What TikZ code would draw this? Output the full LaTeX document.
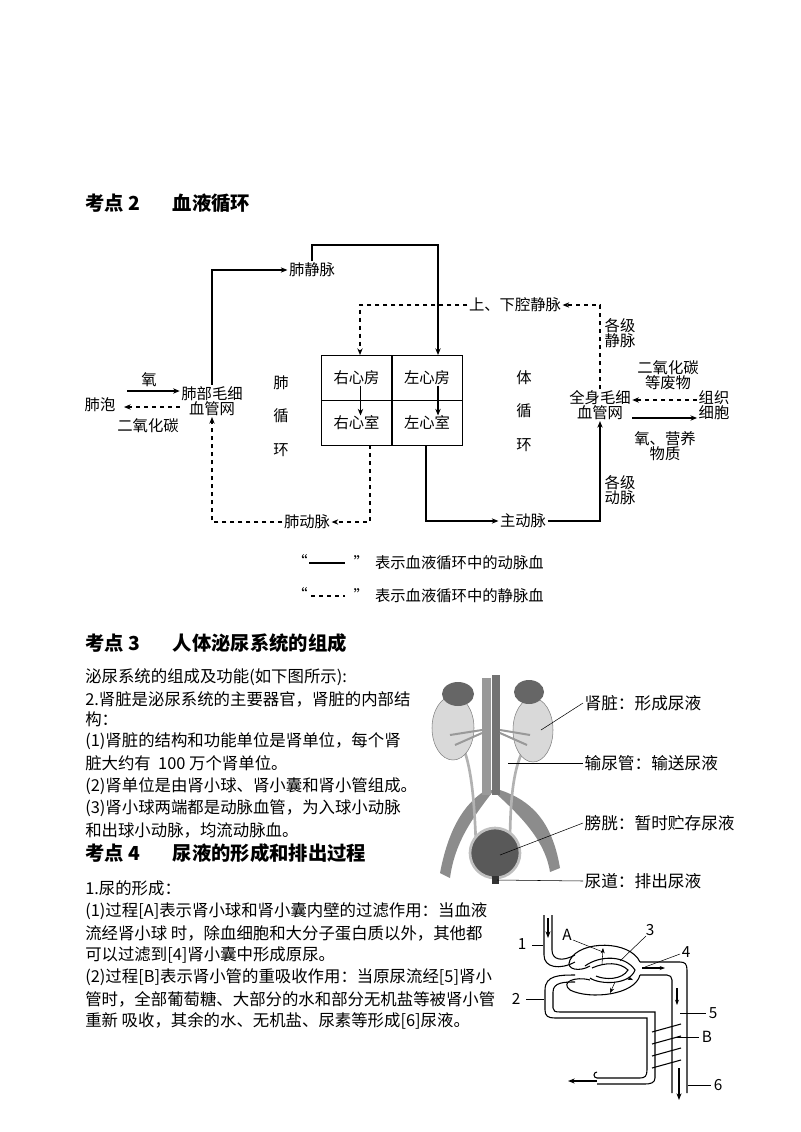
\documentclass[tikz,border=0pt]{standalone}
\usepackage{fontspec}
\setmainfont{Noto Sans CJK SC}
\usetikzlibrary{arrows.meta,calc}
\begin{document}
\begin{tikzpicture}[x=0.75pt,y=-0.75pt,
  t/.style={font=\fontsize{11.5}{13}\selectfont,inner sep=1pt},
  kl/.style={font=\fontsize{12.5}{14}\selectfont,inner sep=1pt,anchor=west},
  p/.style={font=\fontsize{12.3}{14}\selectfont,inner sep=0pt,anchor=west},
  h/.style={font=\fontsize{14.5}{17}\bfseries\selectfont,inner sep=0pt,anchor=west},
  cell/.style={draw,minimum width=52.9pt,minimum height=33.75pt,inner sep=0pt,font=\fontsize{11.5}{13}\selectfont},
  ar/.style={-{Stealth[length=5pt,width=4pt]},thick},
  dar/.style={-{Stealth[length=5pt,width=4pt]},thick,dashed},
  tube/.style={line width=0.8pt}]
\useasboundingbox (0,0) rectangle (800,1132);
% headings
\node[h] (h2) at (85,203) {考点 2\hspace{1.7em}血液循环};
% circulation
\node[cell] (ra) at (356.5,377.5) {右心房};
\node[cell] (la) at (427,377.5) {左心房};
\node[cell] (rv) at (356.5,422.5) {右心室};
\node[cell] (lv) at (427,422.5) {左心室};
\draw[ar] ($(ra.center)+(4,8)$) -- ($(rv.center)+(4,-7)$);
\draw[ar] ($(la.center)+(11,8)$) -- ($(lv.center)+(11,-7)$);
\node[t] (pv) at (312,270) {肺静脉};
\node[t] (vc) at (515,305) {上、下腔静脉};
\node[t,align=center] (lc) at (212,401) {肺部毛细\\[-2pt]血管网};
\node[t] (alv) at (100,405) {肺泡};
\node[t] (o2) at (149,380) {氧};
\node[t] (co2) at (148,426) {二氧化碳};
\node[t,align=center] (sc) at (600,405) {全身毛细\\[-2pt]血管网};
\node[t,align=center] (tc) at (714,405) {组织\\[-2pt]细胞};
\node[t,align=center] (waste) at (668,375) {二氧化碳\\[-2pt]等废物};
\node[t,align=center] (nut) at (665,446) {氧、营养\\[-2pt]物质};
\node[t,align=center] (gv) at (620,333) {各级\\[-2pt]静脉};
\node[t,align=center] (ga) at (620,490) {各级\\[-2pt]动脉};
\node[t] (pa) at (307,522) {肺动脉};
\node[t] (ao) at (523,521) {主动脉};
\node[t,align=center] (pc) at (281,416) {肺\\[12pt]循\\[12pt]环};
\node[t,align=center] (sys) at (524,411) {体\\[12pt]循\\[12pt]环};
\draw[ar] (lc.north) |- (pv.west);
\draw[ar] (pv.north) |- (438,245) -- (438,355);
\draw[dar] (vc.west) -| (360,355);
\draw[dar] (sc.north) |- (vc.east);
\draw[dar] (370,445) |- (pa.east);
\draw[dar] (pa.west) -| (lc.south);
\draw[ar] (426,445) |- (ao.west);
\draw[ar] (ao.east) -| (sc.south);
\draw[dar] (tc.west |- 0,400) -- (sc.east |- 0,400);
\draw[ar] (sc.east |- 0,418) -- (tc.west |- 0,418);
\draw[ar] (127,391) -- (lc.west |- 0,391);
\draw[dar] (lc.west |- 0,407) -- (124,407);
% legend
\node[t] (q1) at (300,561) {“};
\draw[thick] (309,563) -- (345,563);
\node[t,anchor=west] (l1) at (352,563) {”\hspace{0.4em}表示血液循环中的动脉血};
\node[t] (q2) at (300,594) {“};
\draw[thick,dashed] (311,596) -- (345,596);
\node[t,anchor=west] (l2) at (352,596) {”\hspace{0.4em}表示血液循环中的静脉血};
% section 3
\node[h] (h3) at (85,643) {考点 3\hspace{1.7em}人体泌尿系统的组成};
\node[p] at (85,677) {泌尿系统的组成及功能(如下图所示):};
\node[p] at (85,699) {2.肾脏是泌尿系统的主要器官，肾脏的内部结};
\node[p] at (85,719) {构：};
\node[p] at (85,741) {(1)肾脏的结构和功能单位是肾单位，每个肾};
\node[p] at (85,763) {脏大约有\ \ 100 万个肾单位。};
\node[p] at (85,786) {(2)肾单位是由肾小球、肾小囊和肾小管组成。};
\node[p] at (85,808) {(3)肾小球两端都是动脉血管，为入球小动脉};
\node[p] at (85,830) {和出球小动脉，均流动脉血。};
\node[h] (h4) at (85,853) {考点 4\hspace{1.7em}尿液的形成和排出过程};
\node[p] at (85,888) {1.尿的形成：};
\node[p] at (85,911) {(1)过程[A]表示肾小球和肾小囊内壁的过滤作用：当血液};
\node[p] at (85,933) {流经肾小球 时，除血细胞和大分子蛋白质以外，其他都};
\node[p] at (85,955) {可以过滤到[4]肾小囊中形成原尿。};
\node[p] at (85,977) {(2)过程[B]表示肾小管的重吸收作用：当原尿流经[5]肾小};
\node[p] at (85,999) {管时，全部葡萄糖、大部分的水和部分无机盐等被肾小管};
\node[p] at (85,1021) {重新 吸收，其余的水、无机盐、尿素等形成[6]尿液。};
% urinary system picture
\begin{scope}[draw=black!60]
\fill[black!45] (440,873) .. controls (450,820) and (470,800) .. (486,790) -- (494,790) .. controls (475,815) and (455,840) .. (450,878) -- cycle;
\fill[black!45] (560,868) .. controls (552,820) and (530,800) .. (500,790) -- (492,790) .. controls (520,815) and (545,840) .. (550,872) -- cycle;
\fill[black!40] (482,678) rectangle (491,795);
\fill[black!55] (492,675) rectangle (500,795);
\draw[black!30,line width=2pt] (460,740) .. controls (470,760) and (474,790) .. (476,845);
\draw[black!30,line width=2pt] (528,742) .. controls (515,760) and (510,790) .. (510,845);
\fill[black!15,draw=black!50] (453,728) ellipse (21 and 32);
\fill[black!15,draw=black!50] (533,730) ellipse (20 and 32);
\fill[black!60] (458,694) ellipse (16 and 12);
\fill[black!60] (529,692) ellipse (15 and 12);
\draw[black!40,line width=1.5pt] (450,735) -- (482,730) (530,735) -- (500,730) (455,745) -- (482,733) (527,745) -- (500,733);
\fill[black!65,draw=black!25,line width=2pt] (495,853) circle (25);
\fill[black!80] (492,876) rectangle (499,884);
\end{scope}
\node[kl] (kid) at (583,703) {肾脏：形成尿液};
\node[kl] (ure) at (583,763) {输尿管：输送尿液};
\node[kl] (bla) at (583,823) {膀胱：暂时贮存尿液};
\node[kl] (uth) at (583,881) {尿道：排出尿液};
\draw (541,730) -- (kid.west);
\draw (508,763) -- (ure.west);
\draw (500,855) -- (bla.west);
\draw (497,880) -- (uth.west);
% nephron
\begin{scope}[tube]
\draw (544,915) -- (544,955) .. controls (544,968) and (560,970) .. (575,962);
\draw (552,915) -- (552,950) .. controls (552,960) and (562,962) .. (575,955);
\draw (640,962) .. controls (630,940) and (580,940) .. (570,960) .. controls (565,970) and (580,972) .. (590,966);
\draw (640,975) .. controls (635,995) and (590,1000) .. (570,990) .. controls (560,982) and (575,976) .. (590,980);
\draw (585,966) .. controls (600,955) and (625,955) .. (635,970) .. controls (630,985) and (600,985) .. (590,978);
\draw (592,968) .. controls (605,962) and (620,962) .. (628,970) .. controls (622,980) and (605,980) .. (596,976);
\draw (575,975) .. controls (560,975) and (545,975) .. (545,990) -- (545,1010) .. controls (545,1016) and (548,1018) .. (555,1018) -- (647,1018) -- (647,1070) .. controls (647,1076) and (645,1078) .. (640,1078) -- (597,1078);
\draw (575,982) .. controls (565,982) and (553,982) .. (553,992) -- (553,1008) .. controls (553,1011) and (555,1012) .. (560,1012) -- (655,1012) -- (655,1078) .. controls (655,1083) and (650,1084) .. (645,1084) -- (597,1084);
\draw (597,1078) arc (90:270:3);
\draw (640,962) -- (680,962) .. controls (685,962) and (687,964) .. (687,970) -- (687,1093);
\draw (640,975) -- (667,975) .. controls (670,975) and (672,977) .. (672,980) -- (672,1093);
\end{scope}
\draw[-{Stealth[length=5pt]},thick] (548,918) -- (548,938);
\draw[-{Stealth[length=5pt]},thick] (597,1081) -- (568,1081);
\draw[-{Stealth[length=4pt]},thick] (642,968) -- (665,968);
\draw[-{Stealth[length=4pt]},thick] (677,988) -- (677,1005);
\draw[-{Stealth[length=5pt]},thick] (679,1068) -- (679,1100);
\draw[-{Stealth[length=4pt]}] (602,965) -- (603,948);
\draw[-{Stealth[length=4pt]}] (615,982) -- (610,993);
\draw[-{Stealth[length=4pt]}] (628,978) -- (633,980);
\foreach \yy in {1028,1040,1052,1064} \draw[thick] (652,\yy+4) -- (681,\yy-4);
\node[t] (n1) at (522,944) {1};
\draw (532,945) -- (543,945);
\node[t] (n2) at (516,999) {2};
\draw (526,999) -- (544,999);
\node[t] (nA) at (567,935) {A};
\draw (573,940) -- (603,952);
\node[t] (n3) at (650,930) {3};
\draw (646,936) -- (620,961);
\node[t] (n4) at (686,952) {4};
\draw (680,954) -- (645,967);
\node[t] (n5) at (713,1013) {5};
\draw (680,1013) -- (706,1013);
\node[t] (nB) at (707,1037) {B};
\draw (675,1037) -- (699,1037);
\node[t] (n6) at (718,1085) {6};
\draw (688,1085) -- (711,1085);
\end{tikzpicture}
\end{document}
